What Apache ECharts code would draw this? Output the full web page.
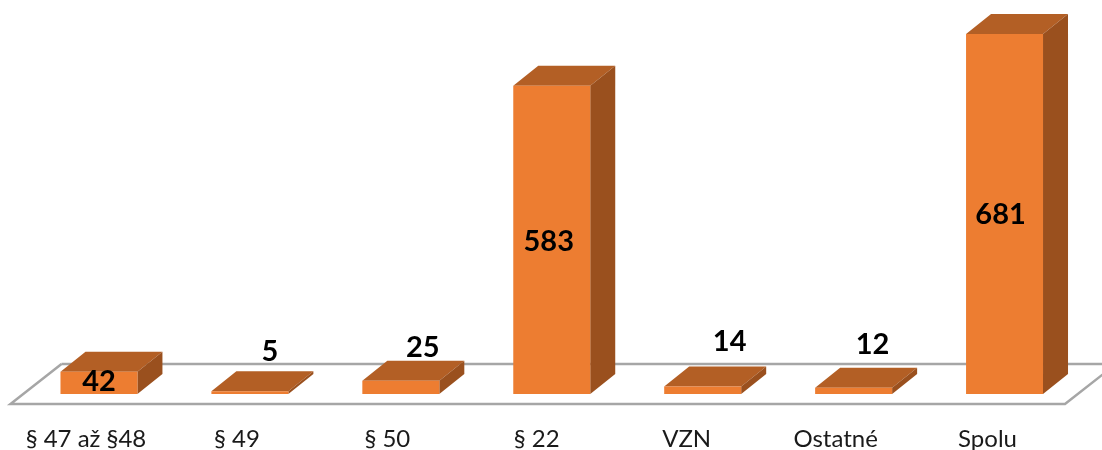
<!DOCTYPE html>
<html>
<head>
<meta charset="utf-8">
<style>
    html, body {margin: 0; padding: 0; background: #fff;}
    #chart {width: 1102px; height: 450px;}
</style>
<script src="https://cdn.jsdelivr.net/npm/echarts@6/dist/echarts.min.js"></script>
</head>
<body>
<div id="chart"></div>
<script>
const categories = ['§ 47 až §48', '§ 49', '§ 50', '§ 22', 'VZN', 'Ostatné', 'Spolu'];
const values = [42, 5, 25, 583, 14, 12, 681];

// hand placed label offsets from the top of the front face, like in the original
const labelShiftX = [0, 20, 22, -3, 27, 19, -4];
const labelShiftY = [10, -40, -33, 156, -45, -43, 181];
// category labels sit a bit left of the bars and drift further left
const tickPadRight = [26, 26, 27, 30, 32, 36, 34];

const depthX = 25;
const depthY = -20;

const FRONT = '#ED7D31';
const TOP = '#B35F25';
const SIDE = '#9A501E';
const FLOOR = '#A6A6A6';

function renderBar(params, api) {
    const i = api.value(0);
    const base = api.coord([i, 0]);
    const top = api.coord([i, api.value(1)]);
    const w = api.size([1, 0])[0] * 0.51;
    const x0 = base[0] - w / 2;
    const x1 = base[0] + w / 2;
    const y0 = base[1];
    const y1 = top[1];
    const poly = (points, fill) => ({
        type: 'polygon',
        shape: {points: points},
        style: {fill: fill}
    });
    return {
        type: 'group',
        children: [
            poly([[x0, y1], [x1, y1], [x1 + depthX, y1 + depthY], [x0 + depthX, y1 + depthY]], TOP),
            poly([[x1, y0], [x1 + depthX, y0 + depthY], [x1 + depthX, y1 + depthY], [x1, y1]], SIDE),
            poly([[x0, y0], [x1, y0], [x1, y1], [x0, y1]], FRONT),
            {
                type: 'text',
                z2: 10,
                style: {
                    x: base[0] + labelShiftX[i],
                    y: y1 + labelShiftY[i],
                    text: String(api.value(1)),
                    fill: '#000',
                    font: 'bold 29px Lato',
                    align: 'center',
                    verticalAlign: 'middle'
                }
            }
        ]
    };
}

function renderFloor(params, api) {
    // the floor is only an outline under the bars, corners follow the category band
    const c = api.coord([0, 0]);
    const step = api.size([1, 0])[0];
    const left = c[0] - step / 2 - 13;
    const right = left + step * 7 - 2;
    const y0 = c[1] + 10;
    const y1 = y0 - 40;
    return {
        type: 'polyline',
        shape: {points: [[left + 51, y1], [left, y0], [right, y0], [right + 51, y1], [left + 51, y1]]},
        style: {fill: 'none', stroke: FLOOR, lineWidth: 2.5}
    };
}

const tickRich = {};
tickPadRight.forEach((p, i) => {
    tickRich['t' + i] = {
        padding: [0, p, 0, 0],
        color: '#1a1a1a',
        fontFamily: 'Lato',
        fontSize: 24
    };
});

const myChart = echarts.init(document.getElementById('chart'), null, {renderer: 'canvas'});
myChart.setOption({
    animation: false,
    grid: {left: 23.5, right: 22, top: 24, bottom: 56, outerBoundsMode: 'none'},
    xAxis: {
        type: 'category',
        data: categories,
        axisLine: {show: false},
        axisTick: {show: false},
        axisLabel: {
            interval: 0,
            margin: 33,
            formatter: (value, index) => '{t' + index + '|' + value + '}',
            rich: tickRich
        }
    },
    yAxis: {
        type: 'value',
        min: 0,
        max: 700,
        show: false
    },
    series: [
        {
            type: 'custom',
            silent: true,
            z: 1,
            clip: false,
            data: [[0, 0]],
            renderItem: renderFloor
        },
        {
            type: 'custom',
            silent: true,
            z: 2,
            clip: false,
            data: values.map((v, i) => [i, v]),
            encode: {x: 0, y: 1},
            renderItem: renderBar
        }
    ]
});
</script>
</body>
</html>
